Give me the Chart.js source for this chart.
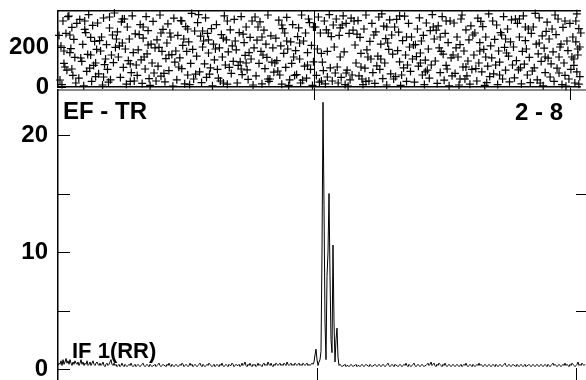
<!DOCTYPE html>
<html><head><meta charset="utf-8">
<script src="https://cdn.jsdelivr.net/npm/chart.js@4"></script>
<style>
html,body{margin:0;padding:0;background:#fff;overflow:hidden}
#wrap{position:relative;width:586px;height:380px;background:#fff}
canvas{position:absolute;left:0;top:0}
</style>
</head><body>
<div id="wrap"><canvas id="bot" width="586" height="380"></canvas><canvas id="top" width="586" height="380"></canvas></div>
<script>
// ---- data ----
const crossPoints = [
[2,35],[3,205],[5,330],[6,118],[4,12],[8,268],[9,84],[11,355],[12,172],[14,298],[15,58],[16,238],[17,148],[18,20],[19,318],[7,100],[10,352],[13,192],[1,258],
[21,44],[22,338],[24,128],[25,213],[26,6],[27,288],[29,78],[30,163],[31,362],[33,248],[34,28],[35,308],[36,108],[37,228],[38,52],[39,188],[23,145],[28,272],[32,94],
[40,320],[41,66],[43,180],[44,250],[45,10],[46,345],[48,140],[49,212],[50,88],[52,295],[53,36],[54,160],[55,260],[56,122],[57,370],[58,198],[42,232],[47,112],[51,24],
[60,276],[61,150],[63,48],[64,326],[65,220],[66,98],[68,190],[69,14],[70,300],[71,132],[72,240],[74,72],[75,356],[76,172],[77,30],[78,266],[62,206],[67,340],[73,116],
[80,58],[81,186],[83,312],[84,136],[85,18],[86,244],[88,90],[89,352],[90,166],[91,282],[92,42],[94,214],[95,120],[96,328],[97,70],[98,196],[82,262],[87,150],[93,8],
[100,236],[101,104],[103,360],[104,54],[105,178],[106,288],[108,26],[109,142],[110,220],[111,316],[112,82],[114,250],[115,162],[116,4],[117,344],[118,124],[102,198],[107,68],[113,270],
[120,36],[121,258],[123,146],[124,332],[125,92],[126,208],[128,16],[129,302],[130,178],[131,60],[132,226],[134,118],[135,368],[136,188],[137,40],[138,280],[122,100],[127,240],[133,12],
[140,154],[141,322],[143,76],[144,254],[145,22],[146,200],[148,116],[149,346],[150,48],[151,268],[152,170],[154,96],[155,292],[156,6],[157,214],[158,136],[142,362],[147,230],[153,64],
[160,312],[161,88],[163,196],[164,30],[165,262],[166,150],[168,356],[169,110],[170,236],[171,14],[172,176],[174,286],[175,68],[176,206],[177,128],[178,338],[162,44],[167,244],[173,98],
[180,186],[181,20],[183,272],[184,126],[185,352],[186,62],[188,222],[189,158],[190,300],[191,86],[192,38],[194,248],[195,140],[196,330],[197,10],[198,196],[182,108],[187,264],[193,172],
[200,56],[201,234],[203,118],[204,326],[205,178],[206,16],[208,284],[209,92],[210,214],[211,148],[212,360],[214,40],[215,256],[216,124],[217,196],[218,74],[202,300],[207,160],[213,28],
[220,244],[221,132],[223,334],[224,60],[225,206],[226,14],[228,168],[229,270],[230,98],[231,348],[232,190],[234,36],[235,226],[236,118],[237,312],[238,150],[222,80],[227,292],[233,8],
[240,182],[241,62],[243,296],[244,140],[245,20],[246,360],[248,230],[249,104],[250,270],[251,44],[252,172],[254,322],[255,88],[256,208],[257,8],[258,126],[242,252],[247,34],[253,340],
[260,300],[261,58],[263,350],[264,24],[265,270],[266,168],[268,82],[269,330],[270,16],[271,286],[272,50],[274,362],[275,96],[276,252],[277,30],[278,310],[262,190],[267,124],[273,270],
[280,70],[281,340],[283,20],[284,258],[285,296],[286,48],[288,356],[289,176],[290,12],[291,318],[292,84],[294,268],[295,36],[296,344],[297,60],[298,284],[282,100],[287,310],[293,4],
[300,210],[301,120],[303,332],[304,56],[305,248],[306,168],[308,12],[309,290],[310,94],[311,360],[312,186],[314,30],[315,228],[316,140],[317,318],[318,72],[302,264],[307,40],[313,150],
[320,18],[321,276],[323,154],[324,350],[325,88],[326,214],[328,42],[329,304],[330,120],[331,242],[332,10],[334,188],[335,336],[336,66],[337,260],[338,164],[322,106],[327,366],[333,220],
[340,300],[341,52],[343,182],[344,274],[345,126],[346,8],[348,232],[349,96],[350,354],[351,160],[352,28],[354,318],[355,200],[356,78],[357,250],[358,140],[342,338],[347,60],[353,110],
[360,24],[361,212],[363,290],[364,104],[365,346],[366,170],[368,60],[369,258],[370,12],[371,134],[372,320],[374,190],[375,44],[376,282],[377,110],[378,362],[362,152],[367,230],[373,84],
[380,240],[381,130],[383,18],[384,306],[385,196],[386,72],[388,352],[389,164],[390,34],[391,268],[392,108],[394,222],[395,6],[396,330],[397,146],[398,56],[382,284],[387,178],[393,90],
[400,320],[401,68],[403,250],[404,150],[405,10],[406,212],[408,360],[409,100],[410,180],[411,40],[412,286],[414,130],[415,236],[416,14],[417,306],[418,88],[402,196],[407,340],[413,56],
[420,160],[421,270],[423,30],[424,344],[425,120],[426,222],[428,76],[429,302],[430,188],[431,8],[432,250],[434,104],[435,366],[436,52],[437,206],[438,146],[422,92],[427,328],[433,22],
[440,66],[441,238],[443,310],[444,12],[445,180],[446,124],[448,260],[449,40],[450,352],[451,198],[452,84],[454,290],[455,154],[456,26],[457,226],[458,336],[442,110],[447,272],[453,170],
[460,200],[461,46],[463,132],[464,318],[465,86],[466,250],[468,16],[469,178],[470,356],[471,114],[472,232],[474,60],[475,290],[476,148],[477,22],[478,268],[462,340],[467,96],[473,190],
[480,300],[481,96],[483,214],[484,36],[485,166],[486,346],[488,128],[489,256],[490,6],[491,194],[492,72],[494,324],[495,144],[496,240],[497,50],[498,116],[482,368],[487,20],[493,278],
[500,176],[501,28],[503,262],[504,94],[505,340],[506,150],[508,214],[509,12],[510,298],[511,120],[512,58],[514,230],[515,182],[516,40],[517,318],[518,88],[502,360],[507,200],[513,4],
[520,250],[521,140],[522,20],[523,330],[524,76],[525,190],[526,292],[527,52],[524,366],[521,108],[523,226],[526,14],[525,160],[528,270],
[6,180],[14,90],[27,330],[33,160],[46,50],[59,240],[65,340],[79,110],[86,300],[99,30],[104,270],[119,180],[125,330],[139,64],[146,280],[159,190],
[167,20],[179,230],[185,90],[199,350],[206,250],[219,120],[226,310],[239,58],[244,220],[252,110],[266,30],[279,200],[285,150],[299,330],[306,100],
[319,260],[326,140],[339,40],[345,356],[359,210],[366,120],[379,300],[386,250],[399,160],[406,40],[419,260],[426,180],[439,330],[446,60],[459,110],
[466,340],[479,80],[486,220],[499,290],[506,70],[519,150],[12,260],[38,120],[52,350],[73,28],[91,210],[112,160],[131,290],[152,236],[171,330],
[190,120],[212,40],[231,230],[258,300],[272,178],[291,70],[311,28],[332,300],[352,250],[371,76],[392,330],[412,100],[432,150],[452,240],[472,300],
[492,150],[512,330],[527,200]
];

const spectrum = [
.3,.5,.4,.7,.3,.8,.4,.6,.9,.5,.7,.4,.8,.5,.3,.6,.4,.7,.5,.4,
.6,.3,.5,.8,.4,.6,.3,.5,.4,.7,.3,.4,.6,.3,.5,.7,.4,.3,.5,.6,
.4,.3,.5,.3,.4,.6,.3,.2,.4,.5,.3,.4,.6,.8,.4,.3,.5,.3,.4,.2,
.3,.4,.2,.3,.5,.3,.2,.4,.3,.2,.3,.4,.3,.5,.3,.2,.3,.4,.2,.3,
.4,.3,.2,.3,.4,.5,.3,.2,.3,.4,.3,.2,.4,.3,.2,.3,.3,.4,.2,.3,
.4,.5,.3,.2,.3,.4,.3,.3,.2,.4,.3,.5,.3,.2,.4,.3,.2,.3,.4,.3,
.2,.3,.4,.3,.5,.4,.2,.3,.4,.3,.2,.3,.5,.3,.4,.2,.3,.4,.3,.2,
.3,.4,.5,.3,.2,.4,.3,.2,.3,.4,.3,.5,.4,.3,.2,.3,.4,.2,.3,.4,
.3,.2,.4,.3,.5,.3,.2,.3,.4,.3,.2,.4,.3,.3,.5,.4,.2,.3,.4,.3,
.3,.4,.2,.3,.5,.3,.4,.6,.3,.2,.4,.3,.5,.3,.2,.4,.3,.4,.2,.3,
.5,.3,.4,.3,.2,.4,.5,.3,.4,.3,.6,.4,.3,.5,.3,.2,.4,.3,.5,.4,
.3,.4,.5,.3,.4,.3,.5,.4,.3,.6,.4,.3,.4,.5,.3,.4,.3,.5,.4,.3,
.4,.5,.3,.4,.3,.5,.4,.3,.4,.5,.3,.4,.3,.4,.5,
.4,.6,1.2,1.7,.8,.3,.6,.8,1.5,10,22.8,14,4,.8,7.9,10,15,8,2.5,1.4,10.6,4,.6,2.5,3.5,1,.3,
.4,.3,.2,.3,.3,.4,.2,.3,.3,.2,.3,.4,.3,.2,.3,.3,.4,.2,.3,.3,
.2,.3,.4,.3,.2,.3,.4,.3,.3,.2,.4,.3,.2,.3,.3,.4,.3,.2,.3,.4,
.3,.2,.3,.4,.3,.2,.3,.4,.5,.3,.2,.3,.4,.3,.2,.4,.3,.3,.2,.3,
.4,.3,.2,.3,.4,.3,.5,.3,.2,.4,.3,.2,.3,.4,.5,.3,.2,.3,.4,.3,
.2,.3,.4,.3,.2,.3,.3,.4,.5,.3,.4,.6,.3,.4,.5,.3,.2,.4,.3,.5,
.4,.3,.2,.4,.3,.5,.3,.2,.3,.4,.3,.2,.3,.4,.3,.2,.3,.4,.3,.2,
.3,.4,.2,.3,.4,.3,.5,.3,.2,.3,.4,.3,.2,.4,.3,.2,.3,.4,.3,.5,
.3,.4,.3,.2,.3,.4,.3,.2,.3,.4,.3,.2,.3,.4,.3,.2,.4,.3,.2,.3,
.4,.3,.2,.3,.4,.5,.3,.2,.3,.4,.3,.2,.3,.4,.3,.3,.2,.4,.3,.2,
.3,.4,.3,.2,.3,.4,.2,.3,.3,.4,.3,.2,.3,.4,.3,.2,.3,.4,.3,.2,
.3,.4,.3,.2,.3,.4,.3,.2,.4,.3,.2,.3,.4,.5,.3,.4,.3,.2,.3,.4,
.3,.2,.3,.4,.3,.5,.3,.4,.3,.2,.4,.3,.5,.4,.3,.2,.3,.4,.6,.3,
.4,.3,.5,.4,.3,.4
];

const xTickValues = [259, 518];
const topYTicks = [0, 100, 200, 300];
const topYLabels = [0, 200];
const botYTicks = [0, 5, 10, 15, 20];
const botYLabels = [0, 10, 20];
const botRightTicks = [5, 15];
const titleLeft = 'EF - TR';
const titleRight = '2 - 8';
const traceLabel = 'IF 1(RR)';

// ---- rendering ----
const FONT = "'Liberation Sans', Arial, Helvetica, sans-serif";
Chart.defaults.font.family = FONT;
Chart.defaults.color = '#000';

function fixBox(w, h) {
  return s => {
    if (w !== null) s.width = w;
    if (h !== null) s.height = h;
    s.paddingTop = 0; s.paddingBottom = 0; s.paddingLeft = 0; s.paddingRight = 0;
  };
}

const topTicksPlugin = {
  id: 'topTicks',
  afterDraw(chart) {
    const {ctx, chartArea: a, scales: {y}} = chart;
    ctx.save();
    ctx.strokeStyle = '#000'; ctx.lineWidth = 1;
    ctx.beginPath();
    y.ticks.forEach(t => {
      const py = Math.round(y.getPixelForValue(t.value)) + 0.5;
      ctx.moveTo(a.left, py); ctx.lineTo(a.left + 8, py);
    });
    ctx.stroke();
    ctx.restore();
  }
};

new Chart(document.getElementById('top'), {
  type: 'scatter',
  data: { datasets: [{
    data: crossPoints.map(p => ({x: p[0], y: p[1]})),
    xAxisID: 'x', yAxisID: 'y',
    pointStyle: 'cross', pointRadius: 4, pointHoverRadius: 4,
    borderColor: '#000', backgroundColor: '#000', pointBorderWidth: 1.2,
    clip: false
  }]},
  options: {
    responsive: false, animation: false, devicePixelRatio: 1, events: [],
    layout: { padding: { top: 11, bottom: 280, left: 0, right: 0 } },
    plugins: { legend: {display: false}, tooltip: {enabled: false} },
    scales: {
      x: {
        type: 'linear', position: 'bottom', min: 0, max: 528,
        afterFit: fixBox(null, 13),
        afterBuildTicks: s => { s.ticks = xTickValues.map(v => ({value: v})); },
        ticks: { display: false },
        grid: { display: true, drawOnChartArea: true, drawTicks: true, tickLength: 13,
          color: c => (c.index === 0 ? '#000' : 'rgba(0,0,0,0)'), tickColor: '#000', lineWidth: 1 },
        border: { display: true, color: '#000', width: 1.5 }
      },
      xTop: {
        type: 'linear', position: 'top', min: 0, max: 528,
        afterFit: fixBox(null, 0),
        ticks: { display: false }, grid: { display: false },
        border: { display: true, color: '#000', width: 1.5 }
      },
      y: {
        type: 'linear', position: 'left', min: 0, max: 380,
        afterFit: fixBox(58, null),
        afterBuildTicks: s => { s.ticks = topYTicks.map(v => ({value: v})); },
        ticks: { padding: 9, font: { size: 24, weight: 'bold' }, color: '#000',
          callback: v => (topYLabels.includes(v) ? String(v) : '') },
        grid: { display: false, drawTicks: false },
        border: { display: true, color: '#000', width: 1.5 }
      }
    }
  },
  plugins: [topTicksPlugin]
});

const botPlugin = {
  id: 'botDecor',
  afterDraw(chart) {
    const {ctx, chartArea: a, scales: {x, y}} = chart;
    ctx.save();
    ctx.strokeStyle = '#000'; ctx.lineWidth = 1;
    ctx.beginPath();
    botYTicks.forEach(v => {
      const py = Math.round(y.getPixelForValue(v)) + 0.5;
      ctx.moveTo(a.left, py); ctx.lineTo(a.left + 12, py);
    });
    botRightTicks.forEach(v => {
      const py = Math.round(y.getPixelForValue(v)) + 0.5;
      ctx.moveTo(a.right - 10, py); ctx.lineTo(a.right, py);
    });
    const y0 = y.getPixelForValue(0) - 1;
    xTickValues.forEach(v => {
      const px = Math.round(x.getPixelForValue(v)) + 0.5;
      ctx.moveTo(px, y0); ctx.lineTo(px, a.bottom);
    });
    ctx.stroke();
    ctx.fillStyle = '#000';
    ctx.textBaseline = 'alphabetic';
    ctx.font = "bold 24px " + FONT;
    ctx.textAlign = 'left';
    ctx.fillText(titleLeft, a.left + 5, a.top + 29);
    ctx.textAlign = 'right';
    ctx.fillText(titleRight, a.right - 23, a.top + 30);
    ctx.font = "bold 22px " + FONT;
    ctx.textAlign = 'left';
    ctx.fillText(traceLabel, a.left + 14, y.getPixelForValue(0) - 11);
    ctx.restore();
  }
};

new Chart(document.getElementById('bot'), {
  type: 'line',
  data: { datasets: [{
    data: spectrum.map((v, i) => ({x: i, y: v})),
    xAxisID: 'x', yAxisID: 'y',
    borderColor: '#000', borderWidth: 1, pointRadius: 0, tension: 0, fill: false
  }]},
  options: {
    responsive: false, animation: false, devicePixelRatio: 1, events: [],
    layout: { padding: { top: 90, bottom: 0, left: 0, right: 0 } },
    plugins: { legend: {display: false}, tooltip: {enabled: false} },
    scales: {
      x: {
        type: 'linear', position: 'bottom', min: 0, max: 528,
        afterFit: fixBox(null, 0),
        ticks: { display: false }, grid: { display: false },
        border: { display: false }
      },
      xTop: {
        type: 'linear', position: 'top', min: 0, max: 528,
        afterFit: fixBox(null, 0),
        ticks: { display: false }, grid: { display: false },
        border: { display: true, color: '#8a8a8a', width: 2 }
      },
      y: {
        type: 'linear', position: 'left', min: -0.94, max: 23.85,
        afterFit: fixBox(58, null),
        afterBuildTicks: s => { s.ticks = botYTicks.map(v => ({value: v})); },
        ticks: { padding: 10, font: { size: 24, weight: 'bold' }, color: '#000',
          callback: v => (botYLabels.includes(v) ? String(v) : '') },
        grid: { display: false, drawTicks: false },
        border: { display: true, color: '#000', width: 1.5 }
      },
      yR: {
        type: 'linear', position: 'right', min: -0.94, max: 23.85,
        afterFit: fixBox(0, null),
        ticks: { display: false }, grid: { display: false },
        border: { display: false }
      }
    }
  },
  plugins: [botPlugin]
});
</script>
</body></html>
